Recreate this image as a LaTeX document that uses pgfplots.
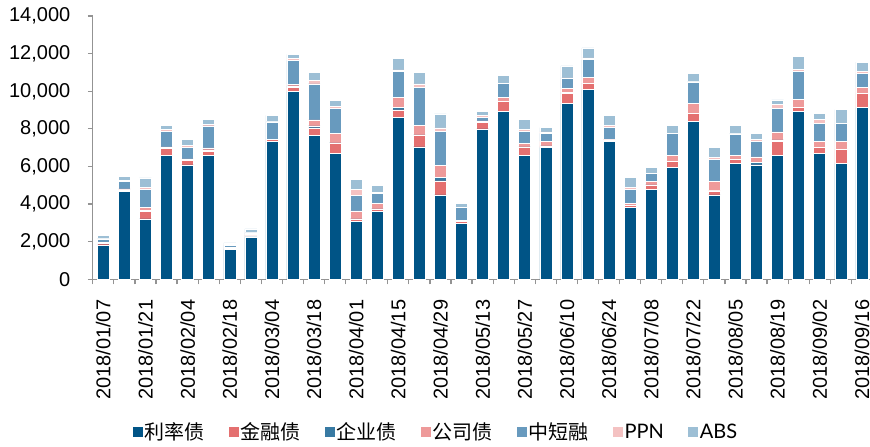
\documentclass[border=0pt]{standalone}
\usepackage{pgfplots}
\usepackage{pgfplotstable}
\pgfplotsset{compat=1.18}
\usepackage{fontspec}
\setmainfont{Liberation Sans}
\newfontfamily\cjk{Noto Sans CJK SC}
\newfontfamily\lat{Lato}
\definecolor{cA}{RGB}{0,84,134}
\definecolor{cB}{RGB}{228,112,112}
\definecolor{cC}{RGB}{56,122,163}
\definecolor{cD}{RGB}{238,154,154}
\definecolor{cE}{RGB}{104,154,190}
\definecolor{cF}{RGB}{244,194,194}
\definecolor{cG}{RGB}{157,191,213}
\pgfplotstableread{
x a b c d e f g
0 1830 80 20 20 200 20 180
1 4680 80 20 30 390 70 220
2 3210 420 20 170 950 100 530
3 6610 350 20 70 810 100 220
4 6080 230 20 70 620 100 320
5 6610 210 70 100 1170 100 260
6 1610 20 60 20 110 20 100
7 2250 60 20 60 80 30 180
8 7340 90 20 10 920 10 330
9 9980 210 100 80 1280 100 220
10 7660 400 100 320 1910 200 430
11 6700 540 20 490 1360 100 320
12 3100 100 20 420 830 320 530
13 3630 100 20 300 530 50 370
14 8620 390 120 530 1380 100 620
15 7040 620 20 500 2030 190 620
16 4490 740 190 640 1790 210 740
17 2980 100 20 20 700 10 210
18 8000 330 20 80 200 80 210
19 8940 510 20 190 750 20 400
20 6610 420 20 190 620 100 530
21 7020 60 20 240 420 80 230
22 9340 530 70 230 530 20 630
23 10090 320 20 300 950 100 530
24 7320 90 20 20 640 100 520
25 3830 100 20 100 740 100 530
26 4790 210 20 200 400 20 320
27 5960 310 20 310 1150 20 400
28 8400 420 20 500 1160 20 420
29 4490 210 20 500 1160 100 530
30 6170 200 20 200 1150 20 410
31 6050 30 120 310 830 100 310
32 6600 720 100 420 1270 210 220
33 8920 210 20 420 1480 100 720
34 6700 310 20 300 970 190 320
35 6170 740 20 400 950 20 730
36 9130 740 20 300 760 100 500
}\datatable
\begin{document}
\begin{tikzpicture}
\begin{axis}[
  at={(92.8pt,167.7pt)}, anchor=south west,
  scale only axis, width=779.6pt, height=263.2pt,
  ybar stacked, bar width=12pt,
  xmin=-0.5, xmax=36.5, ymin=0, ymax=14000,
  axis x line*=bottom, axis y line*=left,
  axis line style={draw=gray!85, line width=1.2pt},
  tick style={draw=gray!85, line width=1.2pt},
  tick align=outside, major tick length=5pt,
  ytick={0,2000,...,14000},
  scaled y ticks=false,
  /pgf/number format/.cd, 1000 sep={,}, assume math mode=true, /pgfplots/.cd,
  xtick={-0.5,0.5,...,36.5}, xticklabels={},
  extra x ticks={0,2,...,36},
  extra x tick labels={2018/01/07,2018/01/21,2018/02/04,2018/02/18,2018/03/04,2018/03/18,2018/04/01,2018/04/15,2018/04/29,2018/05/13,2018/05/27,2018/06/10,2018/06/24,2018/07/08,2018/07/22,2018/08/05,2018/08/19,2018/09/02,2018/09/16},
  extra x tick style={major tick length=0pt, grid=none,
    xticklabel style={rotate=90, anchor=east, font=\fontsize{20}{24}\selectfont}},
  xticklabel shift=17pt,
  yticklabel style={font=\fontsize{20}{24}\selectfont},
  yticklabel shift=14pt,
  every axis plot/.append style={draw=white, line width=0.5pt},
  legend columns=7,
  legend style={at={(0.4400,-0.58)}, anchor=center, draw=none,
    font=\fontsize{20}{24}\selectfont,
    /tikz/every even column/.append style={column sep=22pt}},
  legend image code/.code={\fill[#1,draw=none] (0pt,-5pt) rectangle (10pt,5pt);},
]
\addplot[fill=cA] table[x=x,y=a]{\datatable};
\addplot[fill=cB] table[x=x,y=b]{\datatable};
\addplot[fill=cC] table[x=x,y=c]{\datatable};
\addplot[fill=cD] table[x=x,y=d]{\datatable};
\addplot[fill=cE] table[x=x,y=e]{\datatable};
\addplot[fill=cF] table[x=x,y=f]{\datatable};
\addplot[fill=cG] table[x=x,y=g]{\datatable};
\legend{{\cjk 利率债},{\cjk 金融债},{\cjk 企业债},{\cjk 公司债},{\cjk 中短融},{\lat PPN},{\lat ABS}}
\end{axis}
\pgfresetboundingbox
\useasboundingbox (0,0) rectangle (870pt,447pt);
\end{tikzpicture}
\end{document}
